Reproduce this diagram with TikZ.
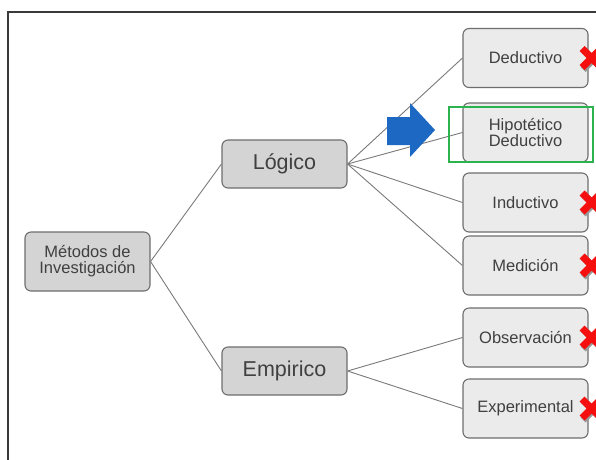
\documentclass[tikz,border=0pt]{standalone}
\usepackage{fontspec}
\setmainfont{Liberation Sans}
\usetikzlibrary{calc}
\definecolor{ink}{HTML}{404040}
\definecolor{edge}{HTML}{6E6E6E}
\definecolor{wire}{HTML}{7A7A7A}
\definecolor{boxmid}{HTML}{D4D4D4}
\definecolor{boxleaf}{HTML}{EBEBEB}
\definecolor{pointer}{HTML}{1C68C2}
\definecolor{pick}{HTML}{2DB34E}
\definecolor{reject}{HTML}{F50F0F}
\definecolor{frame}{HTML}{3A3A3A}

\tikzset{rejected/.pic={
  % drop shadow, then the red cross
  \draw[black!40,line width=7pt] (-8.5,-8.5)--(11.5,11.5) (11.5,-8.5)--(-8.5,11.5);
  \draw[reject,line width=7pt] (-9.5,-9.5)--(9.5,9.5) (9.5,-9.5)--(-9.5,9.5);
}}

\begin{document}
\begin{tikzpicture}[x=1pt,y=-1pt,
  root/.style={draw=edge,fill=boxmid,line width=1.1pt,rounded corners=6pt,
    text=ink,font=\fontsize{16.5}{16}\selectfont,align=center,
    minimum width=125pt,minimum height=59pt,inner sep=0pt},
  branch/.style={root,font=\fontsize{21.5}{24}\selectfont,minimum height=48pt},
  leaf/.style={root,fill=boxleaf},
  wire/.style={draw=wire,line width=.9pt}
]
\clip (0,0) rectangle (596,459);
\fill[white] (0,0) rectangle (596,459);
\draw[frame,line width=1.2pt] (8,470) -- (8,12) -- (610,12);

% tree of methods
\node[root] (metodos) at (87.5,261.5) {Métodos de\\Investigación};
\node[branch] (logico) at (284.5,164) {Lógico};
\node[branch] (empirico) at (284.5,371) {Empirico};
\node[leaf] (deductivo) at (525.5,58) {Deductivo};
\node[leaf] (hipotetico) at (525.5,132.5) {Hipotético\\Deductivo};
\node[leaf] (inductivo) at (525.5,202.5) {Inductivo};
\node[leaf] (medicion) at (525.5,265.5) {Medición};
\node[leaf] (observacion) at (525.5,337.5) {Observación};
\node[leaf] (experimental) at (525.5,408.5) {Experimental};

\draw[wire] (metodos.east) -- (logico.west);
\draw[wire] (metodos.east) -- (empirico.west);
\foreach \m in {deductivo,hipotetico,inductivo,medicion}
  \draw[wire] (logico.east) -- (\m.west);
\foreach \m in {observacion,experimental}
  \draw[wire] (empirico.east) -- (\m.west);

% chosen method
\fill[pointer] (387,117) -- (410,117) -- (410,103) -- (435,130)
  -- (410,157) -- (410,145) -- (387,145) -- cycle;
\draw[pick,line width=1.2pt] (449,107) rectangle (593,162);

% discarded methods
\foreach \m in {deductivo,inductivo,medicion,observacion,experimental}
  \pic at ($(\m.east)+(3,0)$) {rejected};
\end{tikzpicture}
\end{document}
